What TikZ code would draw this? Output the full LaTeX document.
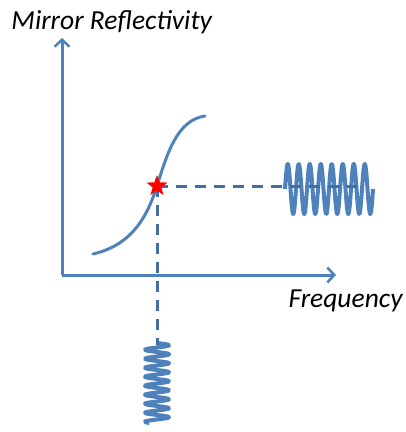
\documentclass[tikz,border=0pt]{standalone}
\usepackage{fontspec}
\setmainfont{Carlito}
\usepackage{tikz}
\usetikzlibrary{positioning,arrows.meta,shapes.geometric}
\definecolor{ax}{RGB}{79,129,189}
\definecolor{stc}{RGB}{255,0,0}

\begin{document}
\begin{tikzpicture}[x=1pt,y=-1pt,line width=3pt,
  axis/.style={draw=ax,-{Straight Barb[length=7pt,width=15pt,line width=2.5pt]}},
  curve/.style={draw=ax,line cap=round},
  dsh/.style={draw=ax!85!black,dash pattern=on 11pt off 8pt},
  wave/.style={draw=ax,line width=4pt,line join=round},
  lbl/.style={font=\fontsize{27.5}{30}\selectfont\itshape,inner sep=0pt,anchor=base west},
  refl star/.style={star,star points=5,star point ratio=2.4,fill=stc,inner sep=0pt,minimum size=22pt}]
  \useasboundingbox (0,0) rectangle (406,432);
  \coordinate (O) at (62,275);
  \coordinate (ytip) at (62,38);
  \coordinate (xtip) at (336,275);
  \coordinate (pt) at (157,186);
  \coordinate (hend) at (357,186);
  \coordinate (vend) at (157,345);
  \node[lbl] (ylab) at (10,29) {Mirror Reflectivity};
  \node[lbl] (xlab) at (287,307) {Frequency};
  \draw[axis] (O)--(ytip);
  \draw[axis] (O)--(xtip);
  % response curve
  \draw[curve] (93,254) .. controls (127,246) and (145,224) .. (pt)
    .. controls (167,154) and (177,120) .. (205,116);
  % output and input waves (angle as parameter)
  \draw[wave] plot[domain=0:2880,samples=260] ({285+\x*0.030556},{189-25*sin(\x)});
  \draw[wave] plot[domain=0:3200,samples=260] ({157+12*sin(\x)},{343+\x*0.025});
  \draw[dsh] (pt)--(hend);
  \draw[dsh] (pt)--(vend);
  \node[refl star] (star) at (pt) {};
\end{tikzpicture}
\end{document}
